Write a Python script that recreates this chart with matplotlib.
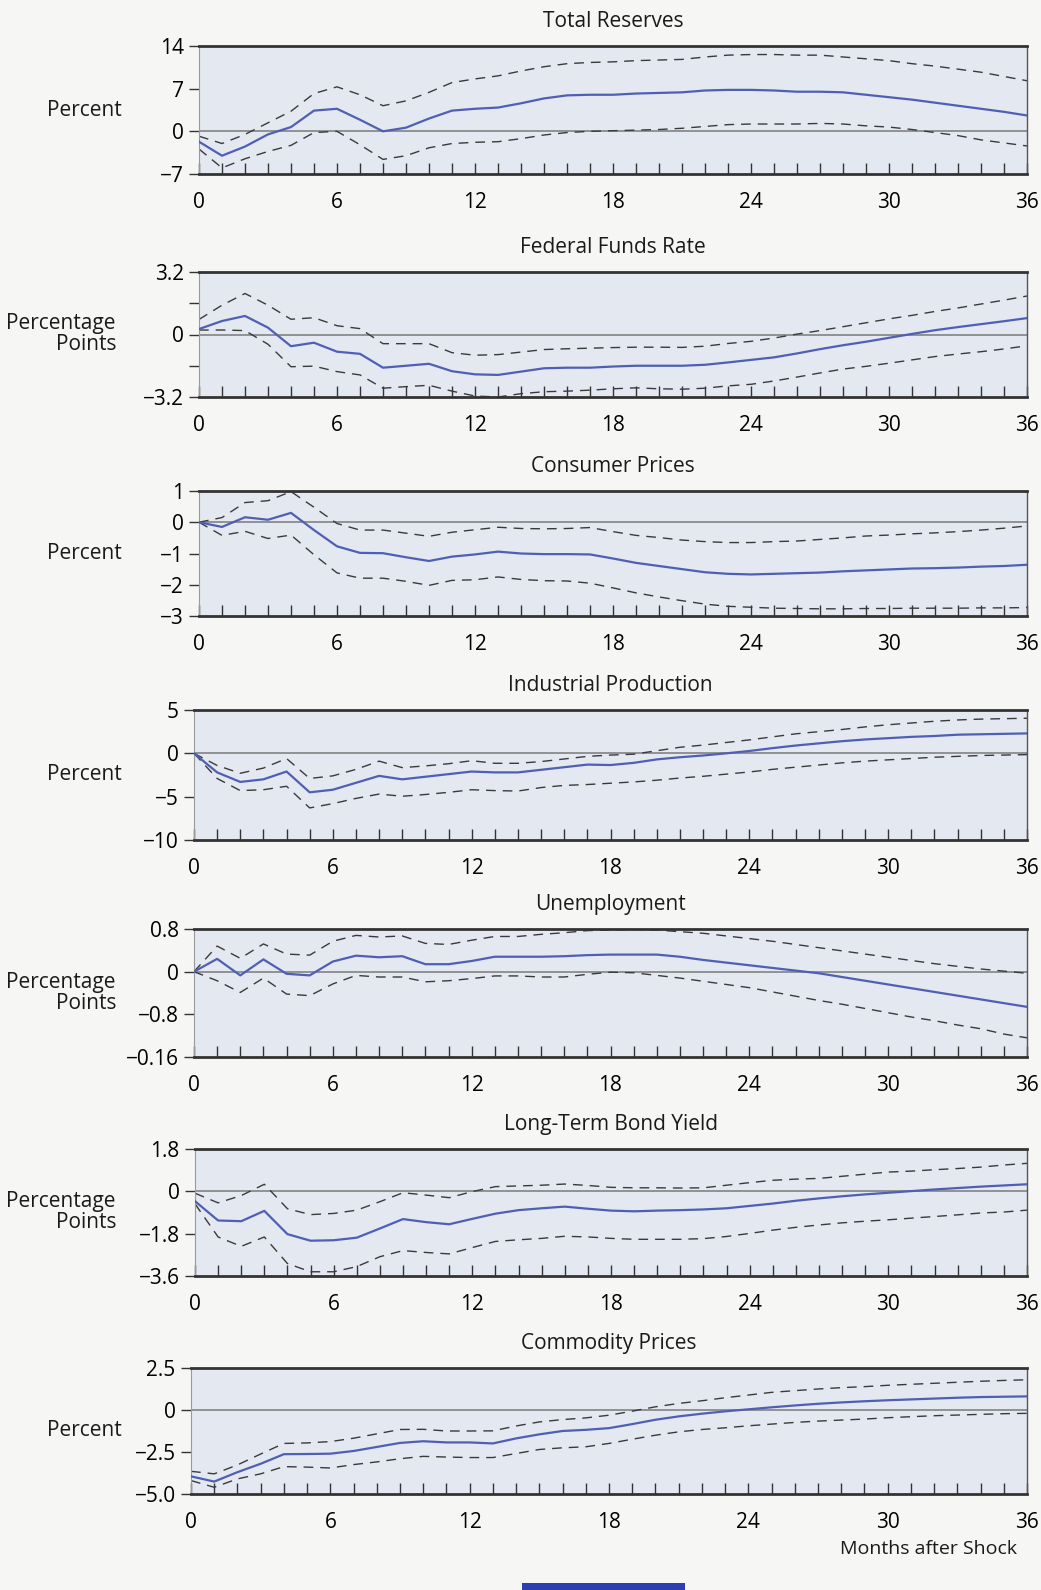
import matplotlib
matplotlib.use("Agg")
import matplotlib.pyplot as plt
from matplotlib import font_manager
from matplotlib.patches import Rectangle

# ── data: impulse responses, months 0..36 ──────────────────────────
months = list(range(37))

reserves_mid = [-1.7, -4.0, -2.5, -0.5, 0.7, 3.4, 3.7, 1.9, 0.0, 0.6, 2.1, 3.4, 3.7, 3.9, 4.6, 5.4, 5.9, 6.0, 6.0,
                6.2, 6.3, 6.4, 6.7, 6.8, 6.8, 6.7, 6.5, 6.5, 6.4, 6.0, 5.6, 5.2, 4.7, 4.2, 3.7, 3.2, 2.6]
reserves_hi = [-0.8, -2.0, -0.5, 1.4, 3.3, 6.2, 7.3, 6.0, 4.2, 5.0, 6.4, 8.0, 8.6, 9.1, 9.9, 10.6, 11.1, 11.3, 11.4,
               11.6, 11.7, 11.8, 12.2, 12.5, 12.6, 12.6, 12.5, 12.5, 12.2, 11.9, 11.6, 11.1, 10.7, 10.2, 9.7, 9.0, 8.3]
reserves_lo = [-2.9, -6.0, -4.5, -3.3, -2.3, -0.2, 0.0, -2.2, -4.6, -4.0, -2.7, -2.0, -1.8, -1.7, -1.2, -0.6, -0.2,
               0.0, 0.1, 0.2, 0.3, 0.5, 0.8, 1.1, 1.2, 1.2, 1.2, 1.3, 1.2, 0.9, 0.7, 0.3, -0.2, -0.7, -1.4, -1.9, -2.4]

fedfunds_mid = [0.28, 0.69, 0.95, 0.35, -0.6, -0.42, -0.88, -0.99, -1.7, -1.6, -1.5, -1.88, -2.04, -2.07, -1.9,
                -1.73, -1.7, -1.7, -1.64, -1.6, -1.6, -1.6, -1.55, -1.43, -1.3, -1.17, -0.97, -0.75, -0.55, -0.37,
                -0.17, 0.03, 0.22, 0.38, 0.53, 0.68, 0.84]
fedfunds_hi = [0.77, 1.5, 2.1, 1.5, 0.78, 0.86, 0.45, 0.3, -0.47, -0.47, -0.47, -0.93, -1.06, -1.03, -0.9, -0.77,
               -0.73, -0.7, -0.67, -0.65, -0.65, -0.66, -0.6, -0.46, -0.35, -0.18, 0.02, 0.2, 0.4, 0.6, 0.8, 0.98,
               1.18, 1.36, 1.56, 1.76, 1.97]
fedfunds_lo = [0.23, 0.23, 0.2, -0.5, -1.65, -1.62, -1.9, -2.07, -2.75, -2.67, -2.6, -2.9, -3.15, -3.2, -3.03,
               -2.93, -2.9, -2.85, -2.78, -2.73, -2.78, -2.8, -2.75, -2.63, -2.55, -2.38, -2.18, -1.97, -1.77,
               -1.63, -1.47, -1.3, -1.13, -1.0, -0.88, -0.74, -0.58]

cpi_mid = [0.0, -0.15, 0.16, 0.08, 0.3, -0.25, -0.77, -0.98, -0.99, -1.12, -1.24, -1.1, -1.03, -0.94, -1.0, -1.02,
           -1.02, -1.03, -1.16, -1.3, -1.4, -1.5, -1.6, -1.65, -1.67, -1.65, -1.63, -1.61, -1.57, -1.54, -1.51,
           -1.48, -1.47, -1.45, -1.42, -1.4, -1.36]
cpi_hi = [0.0, 0.15, 0.63, 0.69, 0.98, 0.48, -0.04, -0.25, -0.25, -0.35, -0.45, -0.32, -0.24, -0.16, -0.2, -0.21,
          -0.2, -0.17, -0.3, -0.42, -0.49, -0.57, -0.62, -0.65, -0.65, -0.62, -0.6, -0.55, -0.5, -0.44, -0.41,
          -0.37, -0.34, -0.3, -0.25, -0.19, -0.12]
cpi_lo = [0.0, -0.42, -0.29, -0.52, -0.41, -1.04, -1.62, -1.79, -1.79, -1.89, -2.02, -1.86, -1.84, -1.75, -1.83,
          -1.87, -1.88, -1.95, -2.1, -2.26, -2.39, -2.51, -2.62, -2.69, -2.72, -2.75, -2.76, -2.77, -2.77, -2.76,
          -2.76, -2.75, -2.75, -2.75, -2.74, -2.74, -2.73]

ip_mid = [0.0, -2.2, -3.3, -3.0, -2.1, -4.5, -4.2, -3.4, -2.6, -3.0, -2.7, -2.4, -2.1, -2.2, -2.2, -1.9, -1.6,
          -1.3, -1.35, -1.1, -0.7, -0.45, -0.25, 0.0, 0.27, 0.6, 0.9, 1.15, 1.4, 1.6, 1.75, 1.9, 2.0, 2.15, 2.2,
          2.25, 2.3]
ip_hi = [0.0, -1.4, -2.3, -1.7, -0.6, -2.9, -2.6, -1.85, -0.9, -1.65, -1.45, -1.2, -0.85, -1.15, -1.15, -0.95,
         -0.65, -0.35, -0.2, -0.1, 0.3, 0.7, 0.95, 1.25, 1.55, 1.9, 2.25, 2.5, 2.75, 3.05, 3.3, 3.5, 3.7, 3.85,
         3.95, 4.0, 4.05]
ip_lo = [0.0, -2.9, -4.3, -4.2, -3.8, -6.3, -5.8, -5.2, -4.7, -4.95, -4.75, -4.5, -4.2, -4.3, -4.35, -3.95, -3.7,
         -3.6, -3.45, -3.3, -3.1, -2.85, -2.65, -2.4, -2.15, -1.85, -1.6, -1.35, -1.1, -0.9, -0.75, -0.6, -0.45,
         -0.35, -0.25, -0.2, -0.15]

unemp_mid = [0.0, 0.24, -0.07, 0.23, -0.04, -0.07, 0.19, 0.3, 0.27, 0.29, 0.14, 0.14, 0.2, 0.28, 0.28, 0.28,
             0.29, 0.31, 0.32, 0.32, 0.32, 0.28, 0.22, 0.17, 0.12, 0.07, 0.02, -0.03, -0.1, -0.17, -0.24, -0.31,
             -0.38, -0.45, -0.52, -0.59, -0.66]
unemp_hi = [0.0, 0.48, 0.25, 0.52, 0.33, 0.31, 0.57, 0.68, 0.65, 0.67, 0.53, 0.51, 0.59, 0.66, 0.66, 0.7, 0.73,
            0.77, 0.78, 0.79, 0.78, 0.75, 0.72, 0.67, 0.62, 0.57, 0.51, 0.45, 0.39, 0.33, 0.27, 0.21, 0.15, 0.1,
            0.05, 0.01, -0.03]
unemp_lo = [0.0, -0.17, -0.39, -0.12, -0.42, -0.45, -0.23, -0.07, -0.1, -0.1, -0.19, -0.17, -0.13, -0.08, -0.08,
            -0.1, -0.1, -0.05, -0.01, -0.02, -0.07, -0.12, -0.18, -0.24, -0.3, -0.38, -0.46, -0.54, -0.61, -0.69,
            -0.77, -0.85, -0.92, -1.0, -1.07, -1.17, -1.24]

bond_mid = [-0.42, -1.24, -1.27, -0.83, -1.82, -2.1, -2.08, -1.97, -1.58, -1.18, -1.31, -1.4, -1.17, -0.95, -0.8,
            -0.72, -0.65, -0.74, -0.82, -0.85, -0.82, -0.8, -0.77, -0.72, -0.62, -0.52, -0.4, -0.3, -0.21, -0.13,
            -0.06, 0.01, 0.08, 0.14, 0.2, 0.25, 0.3]
bond_hi = [-0.08, -0.49, -0.18, 0.3, -0.74, -0.99, -0.94, -0.8, -0.44, -0.06, -0.16, -0.27, -0.01, 0.2, 0.23,
           0.26, 0.31, 0.25, 0.17, 0.15, 0.15, 0.14, 0.15, 0.26, 0.37, 0.47, 0.52, 0.55, 0.64, 0.73, 0.82, 0.86,
           0.92, 0.97, 1.03, 1.12, 1.19]
bond_lo = [-0.53, -1.94, -2.34, -1.94, -3.07, -3.42, -3.42, -3.2, -2.78, -2.52, -2.6, -2.66, -2.39, -2.13, -2.06,
           -2.0, -1.91, -1.94, -2.0, -2.04, -2.04, -2.04, -2.01, -1.92, -1.79, -1.65, -1.53, -1.43, -1.34, -1.27,
           -1.21, -1.14, -1.07, -1.0, -0.92, -0.88, -0.8]

commod_mid = [-3.95, -4.26, -3.7, -3.2, -2.63, -2.62, -2.6, -2.44, -2.2, -1.96, -1.86, -1.93, -1.93, -1.99, -1.69,
              -1.45, -1.25, -1.18, -1.08, -0.84, -0.58, -0.38, -0.22, -0.08, 0.04, 0.16, 0.27, 0.37, 0.45, 0.52,
              0.58, 0.63, 0.68, 0.73, 0.77, 0.79, 0.81]
commod_hi = [-3.65, -3.8, -3.27, -2.62, -1.99, -1.96, -1.88, -1.68, -1.42, -1.16, -1.15, -1.25, -1.25, -1.24, -0.95,
             -0.71, -0.57, -0.47, -0.31, -0.07, 0.19, 0.39, 0.55, 0.73, 0.89, 1.05, 1.15, 1.25, 1.33, 1.39, 1.47,
             1.53, 1.59, 1.65, 1.71, 1.76, 1.8]
commod_lo = [-4.2, -4.6, -4.1, -3.8, -3.37, -3.4, -3.45, -3.25, -3.09, -2.9, -2.76, -2.8, -2.83, -2.83, -2.59,
             -2.35, -2.25, -2.19, -1.99, -1.74, -1.5, -1.3, -1.16, -1.06, -0.94, -0.84, -0.74, -0.66, -0.6, -0.54,
             -0.46, -0.4, -0.34, -0.3, -0.26, -0.22, -0.2]

titles = ["Total Reserves", "Federal Funds Rate", "Consumer Prices", "Industrial Production",
          "Unemployment", "Long-Term Bond Yield", "Commodity Prices"]
ylabels = ["Percent", "Percentage\nPoints", "Percent", "Percent",
           "Percentage\nPoints", "Percentage\nPoints", "Percent"]
yticks = [[-7, 0, 7, 14], [-3.2, -1.6, 0, 1.6, 3.2], [-3, -2, -1, 0, 1], [-10, -5, 0, 5],
          [-1.6, -0.8, 0, 0.8], [-3.6, -1.8, 0, 1.8], [-5.0, -2.5, 0, 2.5]]
ytick_labels = [["\u22127", "0", "7", "14"], ["\u22123.2", "", "0", "", "3.2"],
                ["\u22123", "\u22122", "\u22121", "0", "1"], ["\u221210", "\u22125", "0", "5"],
                ["\u22120.16", "\u22120.8", "0", "0.8"], ["\u22123.6", "\u22121.8", "0", "1.8"],
                ["\u22125.0", "\u22122.5", "0", "2.5"]]
series = [(reserves_mid, reserves_hi, reserves_lo), (fedfunds_mid, fedfunds_hi, fedfunds_lo),
          (cpi_mid, cpi_hi, cpi_lo), (ip_mid, ip_hi, ip_lo), (unemp_mid, unemp_hi, unemp_lo),
          (bond_mid, bond_hi, bond_lo), (commod_mid, commod_hi, commod_lo)]

# ── layout (pixels of the 1041x1590 page) ──────────────────────────
W, H = 1041, 1590
panel_px = [(199, 46, 174), (199, 272, 397), (199, 491, 616), (194, 710, 840),
            (194, 929, 1057), (195, 1149, 1276), (191, 1368, 1494)]
RIGHT = 1027

installed = {f.name for f in font_manager.fontManager.ttflist}
family = [f for f in ["Liberation Sans Narrow", "Open Sans", "DejaVu Sans"] if f in installed]
plt.rcParams["font.family"] = family + ["DejaVu Sans"]

PAGE = "#f6f6f4"
FACE = "#e3e8f1"
BLUE = "#4f5fb4"
DASH = "#3a3a3a"

fig = plt.figure(figsize=(W / 100, H / 100), dpi=100)
fig.patch.set_facecolor(PAGE)

for i, (left, top, bottom) in enumerate(panel_px):
    ax = fig.add_axes([left / W, 1 - bottom / H, (RIGHT - left) / W, (bottom - top) / H])
    ax.set_facecolor(FACE)
    mid, hi, lo = series[i]
    ax.axhline(0, color="#7a7a7a", linewidth=1.1, zorder=1)
    ax.plot(months, hi, color=DASH, linewidth=1.0, dashes=(7, 5), zorder=2)
    ax.plot(months, lo, color=DASH, linewidth=1.0, dashes=(7, 5), zorder=2)
    ax.plot(months, mid, color=BLUE, linewidth=1.6, zorder=3)

    ax.set_xlim(0, 36)
    ax.set_ylim(yticks[i][0], yticks[i][-1])
    ax.set_xticks(range(0, 37, 6))
    ax.set_xticks(range(37), minor=True)
    ax.set_yticks(yticks[i])
    ax.set_yticklabels(ytick_labels[i])
    ax.tick_params(axis="x", which="both", direction="in", length=8, width=1.0,
                   color="#333333", labelsize=15, pad=13)
    ax.tick_params(axis="y", direction="out", length=7, width=1.0,
                   color="#333333", labelsize=15, pad=4)
    for side in ("top", "bottom"):
        ax.spines[side].set_linewidth(2.0)
        ax.spines[side].set_color("#333333")
    ax.spines["left"].set_color("#9a9a9a")
    ax.spines["left"].set_linewidth(0.8)
    ax.spines["right"].set_color("#555555")
    ax.spines["right"].set_linewidth(1.0)

    ax.set_title(titles[i], fontsize=15, pad=14, color="#1a1a1a")
    if "\n" in ylabels[i]:
        fig.text(116 / W, 1 - (top + bottom) / 2 / H, ylabels[i], fontsize=15,
                 ha="right", va="center", linespacing=1.0, color="#1a1a1a")
    else:
        fig.text(84 / W, 1 - (top + bottom) / 2 / H, ylabels[i], fontsize=15,
                 ha="center", va="center", color="#1a1a1a")

fig.text(1017 / W, 1 - 1549 / H, "Months after Shock", fontsize=14,
         ha="right", va="center", color="#1a1a1a")
fig.patches.append(Rectangle((522 / W, 0), 163 / W, 7 / H, transform=fig.transFigure,
                             facecolor="#2b3fb3", edgecolor="none"))

fig.savefig("out.png", dpi=100, facecolor=PAGE)
